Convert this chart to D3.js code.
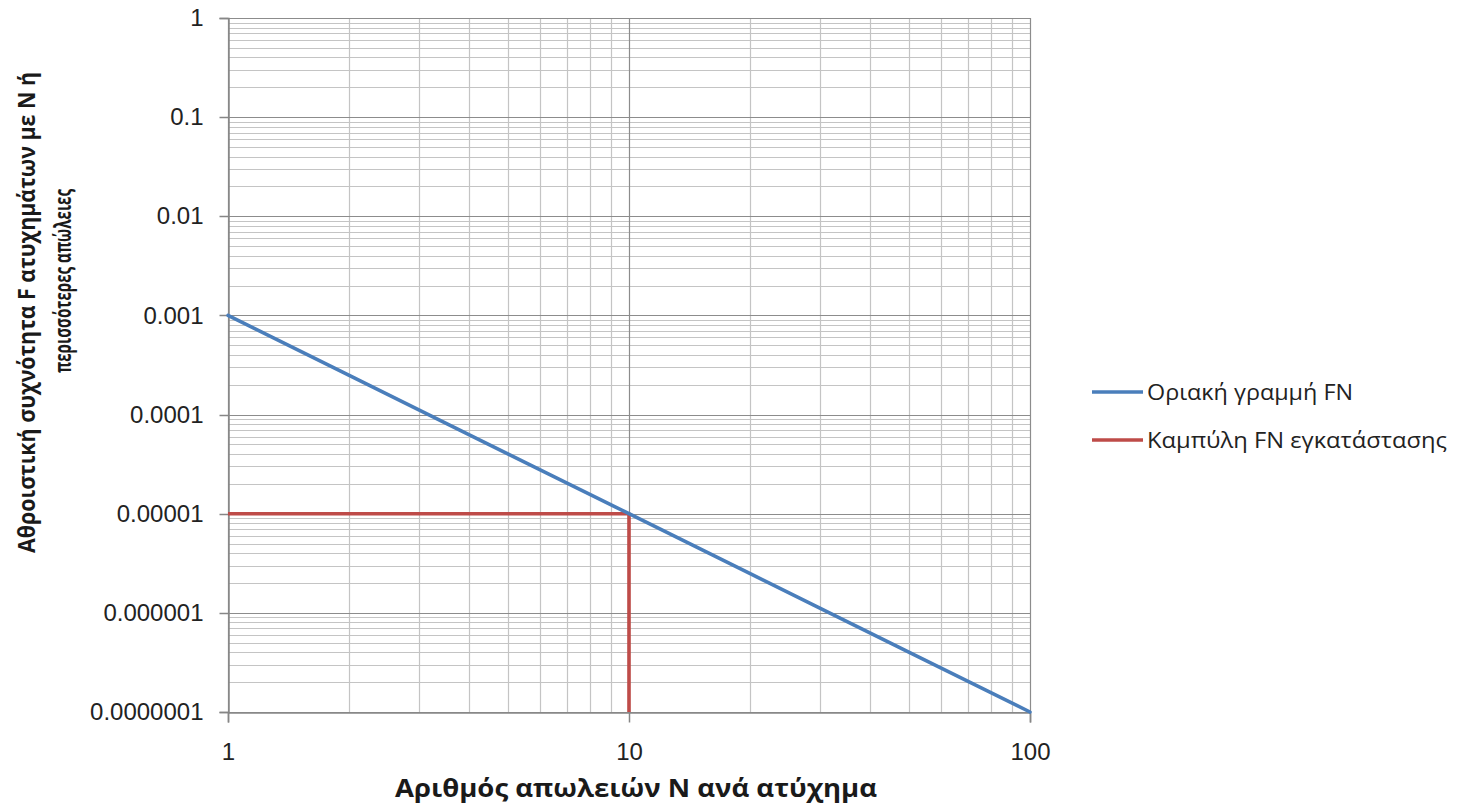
<!DOCTYPE html>
<html>
<head>
<meta charset="utf-8">
<script src="https://cdn.jsdelivr.net/npm/d3@7"></script>
<style>
  html, body { margin: 0; padding: 0; background: #fff; }
  svg { display: block; }
</style>
</head>
<body>
<svg id="chart" width="1465" height="808"></svg>
<script>
// FN diagram: cumulative frequency F of accidents with N or more fatalities
const xDomain = [1, 100];
const yDomain = [1e-7, 1];
const xTickValues = [1, 10, 100];
const xTickLabels = ["1", "10", "100"];
const yTickValues = [1, 0.1, 0.01, 0.001, 0.0001, 0.00001, 0.000001, 0.0000001];
const yTickLabels = ["1", "0.1", "0.01", "0.001", "0.0001", "0.00001", "0.000001", "0.0000001"];

// Series 1: limit line (N, F)
const limitN = [1, 2, 3, 5, 10, 20, 30, 50, 100];
const limitF = [1e-3, 2.5e-4, 1.11e-4, 4e-5, 1e-5, 2.5e-6, 1.11e-6, 4e-7, 1e-7];
// Series 2: installation curve (N, F)
const plantN = [1, 10, 10];
const plantF = [1e-5, 1e-5, 1e-7];

const seriesNames = ["Οριακή γραμμή FN", "Καμπύλη FN εγκατάστασης"];
const seriesColors = ["#4a7ebb", "#be4b48"];
const xTitle = "Αριθμός απωλειών Ν ανά ατύχημα";
const yTitleLines = ["Αθροιστική συχνότητα F ατυχημάτων με Ν ή", "περισσότερες απώλειες"];

const svg = d3.select("#chart");
const plot = { left: 228, right: 1030, top: 18, bottom: 712 };

const x = d3.scaleLog().domain(xDomain).range([plot.left, plot.right]);
const y = d3.scaleLog().domain(yDomain).range([plot.bottom, plot.top]);

// minor values for each decade
function minorValues(domain) {
  const out = [];
  for (let d = domain[0]; d < domain[1]; d *= 10) {
    for (let k = 2; k <= 9; k++) out.push(+(d * k).toPrecision(6));
  }
  return out;
}

const grid = svg.append("g");
// minor gridlines
grid.selectAll("line.ym").data(minorValues(yDomain)).join("line")
  .attr("x1", plot.left).attr("x2", plot.right)
  .attr("y1", d => Math.round(y(d)) + 0.5).attr("y2", d => Math.round(y(d)) + 0.5)
  .attr("stroke", "#c4c4c4").attr("stroke-width", 1.2);
grid.selectAll("line.xm").data(minorValues(xDomain)).join("line")
  .attr("y1", plot.top).attr("y2", plot.bottom)
  .attr("x1", d => Math.round(x(d)) + 0.5).attr("x2", d => Math.round(x(d)) + 0.5)
  .attr("stroke", "#c4c4c4").attr("stroke-width", 1.2);
// major gridlines
grid.selectAll("line.yM").data(yTickValues).join("line")
  .attr("x1", plot.left).attr("x2", plot.right)
  .attr("y1", d => Math.round(y(d)) + 0.5).attr("y2", d => Math.round(y(d)) + 0.5)
  .attr("stroke", "#8c8c8c").attr("stroke-width", 1.2);
grid.selectAll("line.xM").data(xTickValues).join("line")
  .attr("y1", plot.top).attr("y2", plot.bottom)
  .attr("x1", d => Math.round(x(d)) + 0.5).attr("x2", d => Math.round(x(d)) + 0.5)
  .attr("stroke", "#8c8c8c").attr("stroke-width", 1.2);

// axes
const yAxis = d3.axisLeft(y).tickValues(yTickValues)
  .tickFormat((d, i) => yTickLabels[i]).tickSize(9).tickPadding(16);
const xAxis = d3.axisBottom(x).tickValues(xTickValues)
  .tickFormat((d, i) => xTickLabels[i]).tickSize(10).tickPadding(20);

const gy = svg.append("g").attr("transform", `translate(${plot.left + 0.5},0)`).call(yAxis);
const gx = svg.append("g").attr("transform", `translate(0,${plot.bottom + 0.5})`).call(xAxis);
[gx, gy].forEach(g => {
  g.selectAll("path.domain").attr("stroke", "#868686").attr("stroke-width", 1.5);
  g.selectAll(".tick line").attr("stroke", "#868686").attr("stroke-width", 1.5);
  g.selectAll(".tick text")
    .attr("fill", "#222")
    .style("font-family", "'Liberation Sans', Arial, sans-serif")
    .style("font-size", "24px");
});
gy.selectAll(".tick line").attr("transform", d => `translate(0,${Math.round(y(d)) - y(d)})`);

// series lines
const line = d3.line().x(d => x(d[0])).y(d => y(d[1]));
const plantPts = plantN.map((n, i) => [n, plantF[i]]);
const limitPts = limitN.map((n, i) => [n, limitF[i]]);
svg.append("path").datum(plantPts).attr("d", line)
  .attr("fill", "none").attr("stroke", seriesColors[1]).attr("stroke-width", 3.6)
  .attr("stroke-linejoin", "round");
svg.append("path").datum(limitPts).attr("d", line)
  .attr("fill", "none").attr("stroke", seriesColors[0]).attr("stroke-width", 3.6)
  .attr("stroke-linejoin", "round").attr("stroke-linecap", "round");

// Text drawn narrower than the installed face: the font size is lowered until the
// natural width is within 12% of the wanted width, the rest is a horizontal squeeze.
const textFont = "'Open Sans', 'Noto Sans', sans-serif";
function narrowText(parent, str, width, size, bold) {
  const t = parent.append("text").text(str)
    .style("font-family", textFont)
    .style("font-weight", bold ? "bold" : "normal")
    .style("font-size", size + "px").attr("fill", "#1a1a1a");
  const natural = t.node().getComputedTextLength();
  let fs = size;
  if (natural > width * 1.12) fs = size * width * 1.12 / natural;
  t.style("font-size", fs.toFixed(2) + "px")
    .attr("textLength", width).attr("lengthAdjust", "spacingAndGlyphs");
  return t;
}

// x axis title
narrowText(svg, xTitle, 482, 25, true).attr("x", 395).attr("y", 797);

// y axis title, two rotated lines of the same size
const l1 = narrowText(svg, yTitleLines[0], 481, 25, true)
  .attr("text-anchor", "middle")
  .attr("transform", "translate(35,312.5) rotate(-90)");
svg.append("text").text(yTitleLines[1])
  .style("font-family", textFont).style("font-weight", "bold")
  .style("font-size", l1.style("font-size"))
  .attr("fill", "#1a1a1a")
  .attr("textLength", 184).attr("lengthAdjust", "spacingAndGlyphs")
  .attr("text-anchor", "middle")
  .attr("transform", "translate(71,281) rotate(-90)");

// legend
const legendY = [392, 440];
const legendW = [206, 300];
const legend = svg.append("g");
seriesNames.forEach((name, i) => {
  legend.append("line")
    .attr("x1", 1092).attr("x2", 1143).attr("y1", legendY[i]).attr("y2", legendY[i])
    .attr("stroke", seriesColors[i]).attr("stroke-width", 3.6);
  narrowText(legend, name, legendW[i], 21, false)
    .attr("x", 1147).attr("y", legendY[i] + 7.5).attr("fill", "#222");
});
</script>
</body>
</html>
